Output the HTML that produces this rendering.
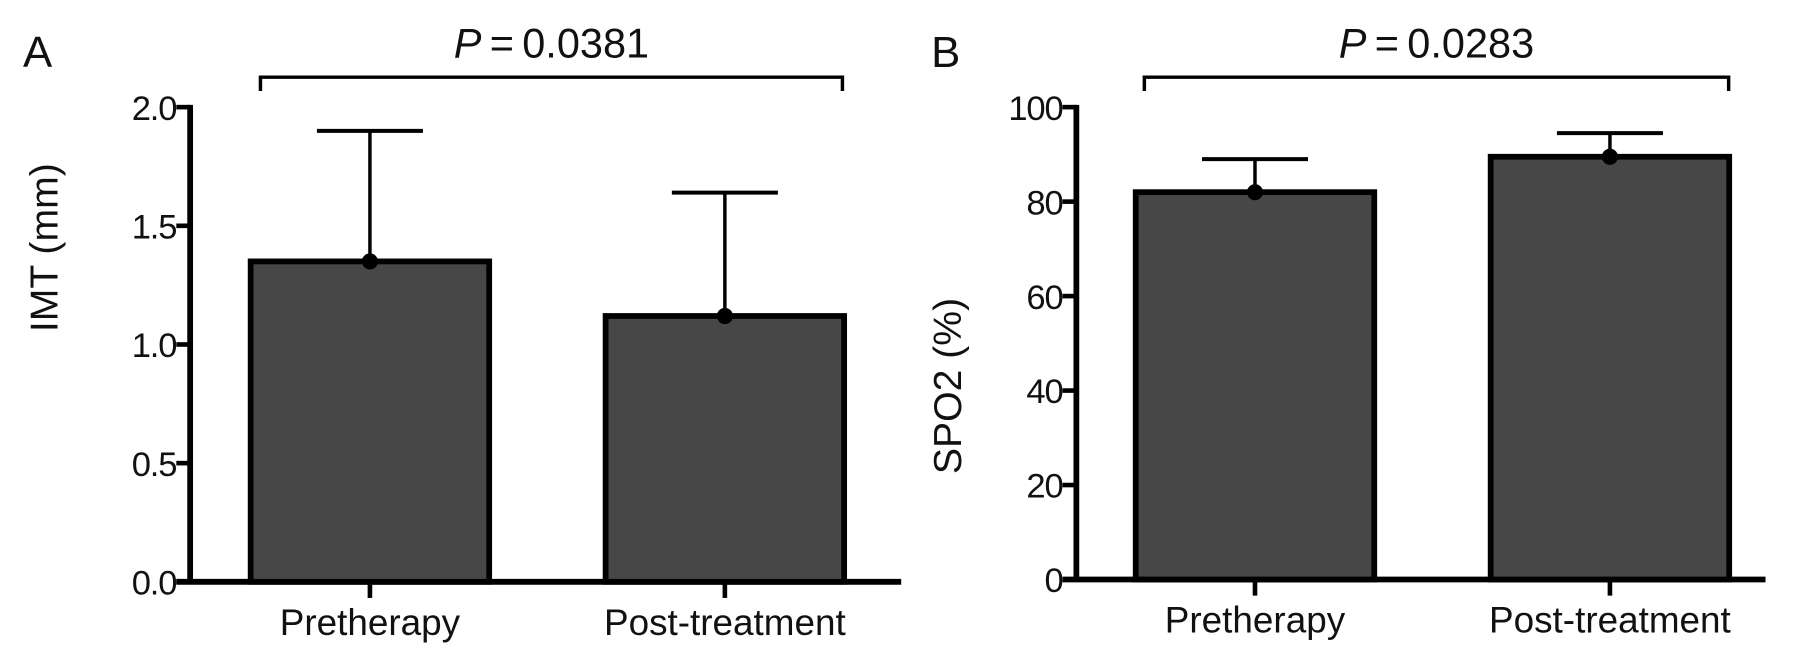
<!DOCTYPE html>
<html><head><meta charset="utf-8"><style>
html,body{margin:0;padding:0;background:#fff;}
svg{display:block;font-family:"Liberation Sans",sans-serif;}
</style></head><body>
<svg id="fig" width="1807" height="659" viewBox="0 0 1568 572" preserveAspectRatio="none" xmlns="http://www.w3.org/2000/svg"></svg>
<script>
const categories = ["Pretherapy", "Post-treatment"];
const imtMeans = [1.35, 1.12];
const imtErr = [0.55, 0.52];
const imtTicks = ["0.0", "0.5", "1.0", "1.5", "2.0"];
const imtTickVals = [0, 0.5, 1.0, 1.5, 2.0];
const spoMeans = [82, 89.5];
const spoErr = [7, 5];
const spoTickVals = [0, 20, 40, 60, 80, 100];
const spoTicks = ["0", "20", "40", "60", "80", "100"];
const pLabels = ["0.0381", "0.0283"];

const NS = "http://www.w3.org/2000/svg";
const svg = document.getElementById("fig");
function mk(tag, attrs, parent) {
  const e = document.createElementNS(NS, tag);
  for (const k in attrs) e.setAttribute(k, attrs[k]);
  (parent || svg).appendChild(e);
  return e;
}

function panel(cfg) {
  const g = mk("g", {});
  
  
  const y = v => cfg.y0 - (v - cfg.min) / (cfg.max - cfg.min) * (cfg.y0 - cfg.y1);
  const ya = mk("line", {x1: cfg.ax, y1: cfg.y1 - 2, x2: cfg.ax, y2: cfg.y0 + 2, stroke: "#000", "stroke-width": 5}, g);
  
  
  const xa = mk("line", {x1: cfg.ax - 12, y1: cfg.y0, x2: cfg.axEnd, y2: cfg.y0, stroke: "#000", "stroke-width": 5}, g);
  
  
  cfg.tickVals.forEach((v, i) => {
    const yy = y(v);
    const t = mk("line", {x1: cfg.ax - 12, y1: yy, x2: cfg.ax, y2: yy, stroke: "#000", "stroke-width": 4}, g);
    
    
    const tl = mk("text", {x: cfg.ax - 12, y: yy + 11, "text-anchor": "end", "font-size": 30, "letter-spacing": -1, fill: "#111"}, g);
    tl.textContent = cfg.tickLabels[i];
    
    
  });
  categories.forEach((c, i) => {
    const cx = cfg.centers[i];
    const top = y(cfg.means[i]);
    const r = mk("rect", {x: cx - cfg.bw / 2, y: top, width: cfg.bw, height: cfg.y0 - top, fill: "#474747", stroke: "#000", "stroke-width": 5}, g);
    
    
    const et = y(cfg.means[i] + cfg.err[i]);
    const el = mk("line", {x1: cx, y1: top, x2: cx, y2: et, stroke: "#000", "stroke-width": 3}, g);
    
    
    const ec = mk("line", {x1: cx - 46, y1: et, x2: cx + 46, y2: et, stroke: "#000", "stroke-width": 3.5}, g);
    
    
    const dot = mk("circle", {cx: cx, cy: top, r: 7, fill: "#000"}, g);
    
    
    const xt = mk("line", {x1: cx, y1: cfg.y0, x2: cx, y2: cfg.y0 + 14, stroke: "#000", "stroke-width": 4}, g);
    
    
    const xl = mk("text", {x: cx, y: cfg.y0 + 46, "text-anchor": "middle", "font-size": 32, fill: "#111"}, g);
    xl.textContent = c;
    
    
  });
  const b = mk("path", {d: `M${cfg.br[0]},${cfg.brY + 12} V${cfg.brY} H${cfg.br[1]} V${cfg.brY + 12}`, fill: "none", stroke: "#000", "stroke-width": 3}, g);
  
  
  const pt = mk("text", {x: (cfg.br[0] + cfg.br[1]) / 2, y: 50, "text-anchor": "middle", "font-size": 36, fill: "#111"}, g);
  pt.innerHTML = '<tspan font-style="italic">P</tspan>\u2009=\u20090' + cfg.p.slice(1);
  
  
  const letter = mk("text", {x: cfg.letterX, y: 58, "font-size": 38, fill: "#111"}, g);
  letter.textContent = cfg.letter;
  
  
  const yl = mk("text", {x: 0, y: 0, "text-anchor": "middle", "font-size": 34, fill: "#111", transform: `translate(${cfg.ylx},${cfg.ylc}) rotate(-90)`}, g);
  yl.textContent = cfg.ylabel;
  
  
}

panel({name: "panel-a-imt", ax: 165, axEnd: 782, y0: 505, y1: 93, min: 0, max: 2,
  tickVals: imtTickVals, tickLabels: imtTicks, means: imtMeans, err: imtErr,
  centers: [321, 629], bw: 207, br: [226, 731], brY: 67, p: pLabels[0],
  letter: "A", letterX: 20, ylx: 50, ylc: 215, ylabel: "IMT  (mm)"});
panel({name: "panel-b-spo2", ax: 934, axEnd: 1532, y0: 503, y1: 93, min: 0, max: 100,
  tickVals: spoTickVals, tickLabels: spoTicks, means: spoMeans, err: spoErr,
  centers: [1089, 1397], bw: 207, br: [993, 1500], brY: 67, p: pLabels[1],
  letter: "B", letterX: 808, ylx: 834, ylc: 335, ylabel: "SPO2  (%)"});
</script>
</body></html>
